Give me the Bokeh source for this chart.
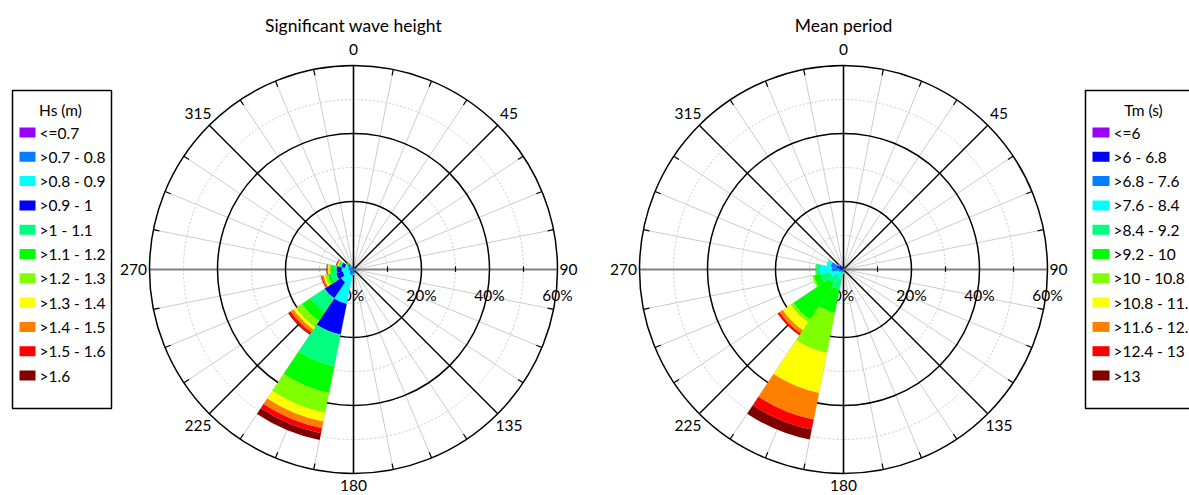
import numpy as np
from bokeh.plotting import figure
from bokeh.models import Range1d, ColumnDataSource
from bokeh.core.properties import value
from bokeh.embed import file_html
from bokeh.resources import INLINE

# ---------------- data ----------------
directions = [0, 22.5, 45, 67.5, 90, 112.5, 135, 157.5, 180, 202.5, 225, 247.5, 270, 292.5, 315, 337.5]
dir_labels = ["0", "45", "90", "135", "180", "225", "270", "315"]
pct_ticks = [0, 20, 40, 60]

hs_title = "Significant wave height"
hs_legend_title = "Hs (m)"
hs_classes = ["<=0.7", ">0.7 - 0.8", ">0.8 - 0.9", ">0.9 - 1", ">1 - 1.1", ">1.1 - 1.2",
              ">1.2 - 1.3", ">1.3 - 1.4", ">1.4 - 1.5", ">1.5 - 1.6", ">1.6"]
hs_colors = ["#9900FF", "#0080FF", "#00FFFF", "#0000FF", "#00FF80", "#00FF00",
             "#80FF00", "#FFFF00", "#FF8000", "#FF0000", "#800000"]
# frequency (%) per direction for every Hs class
hs_c01 = [0.1, 0, 0, 0, 0, 0, 0, 0.1, 0.3, 0.3, 0.3, 0.2, 0.3, 0.3, 0.2, 0.1]
hs_c02 = [0.2, 0, 0, 0, 0, 0, 0, 0.2, 1.0, 1.5, 1.2, 1.0, 1.2, 1.3, 0.8, 0.3]
hs_c03 = [0.1, 0, 0, 0, 0, 0, 0, 0.1, 0.4, 8.5, 3.0, 2.0, 2.0, 1.0, 0.5, 0.2]
hs_c04 = [0, 0, 0, 0, 0, 0, 0, 0, 0.1, 9.2, 5.7, 2.0, 1.5, 1.0, 0.4, 0.1]
hs_c05 = [0, 0, 0, 0, 0, 0, 0, 0, 0, 9.5, 5.0, 1.5, 1.0, 0.5, 0.3, 0]
hs_c06 = [0, 0, 0, 0, 0, 0, 0, 0, 0, 8.0, 3.0, 1.0, 0.7, 0.3, 0.2, 0]
hs_c07 = [0, 0, 0, 0, 0, 0, 0, 0, 0, 6.0, 2.0, 0.8, 0.5, 0.2, 0.1, 0]
hs_c08 = [0, 0, 0, 0, 0, 0, 0, 0, 0, 2.6, 1.0, 0.5, 0.3, 0.2, 0.1, 0]
hs_c09 = [0, 0, 0, 0, 0, 0, 0, 0, 0, 2.0, 1.0, 0.4, 0.2, 0.2, 0.1, 0]
hs_c10 = [0, 0, 0, 0, 0, 0, 0, 0, 0, 1.5, 0.6, 0.3, 0.2, 0.2, 0.1, 0]
hs_c11 = [0, 0, 0, 0, 0, 0, 0, 0, 0, 2.0, 0.3, 0.1, 0.1, 0.1, 0, 0]

tm_title = "Mean period"
tm_legend_title = "Tm (s)"
tm_classes = ["<=6", ">6 - 6.8", ">6.8 - 7.6", ">7.6 - 8.4", ">8.4 - 9.2", ">9.2 - 10",
              ">10 - 10.8", ">10.8 - 11.6", ">11.6 - 12.4", ">12.4 - 13", ">13"]
tm_colors = ["#9900FF", "#0000FF", "#0080FF", "#00FFFF", "#00FF80", "#00FF00",
             "#80FF00", "#FFFF00", "#FF8000", "#FF0000", "#800000"]
tm_c01 = [0, 0, 0, 0, 0, 0, 0, 0, 0, 0, 0, 0, 0, 0.1, 0.1, 0]
tm_c02 = [0.2, 0, 0, 0, 0, 0, 0, 0, 0.2, 0.2, 0.2, 0.4, 1.0, 2.0, 1.2, 0.3]
tm_c03 = [0.1, 0, 0, 0, 0, 0, 0, 0, 0.4, 0.6, 0.5, 1.0, 2.5, 1.8, 0.5, 0.2]
tm_c04 = [0, 0, 0, 0, 0, 0, 0, 0, 0.5, 2.0, 1.5, 2.5, 3.5, 1.0, 0.2, 0]
tm_c05 = [0, 0, 0, 0, 0, 0, 0, 0, 0.3, 3.2, 3.0, 3.0, 1.0, 0.2, 0, 0]
tm_c06 = [0, 0, 0, 0, 0, 0, 0, 0, 0.1, 7.0, 12.5, 2.0, 0.3, 0, 0, 0]
tm_c07 = [0, 0, 0, 0, 0, 0, 0, 0, 0, 12.0, 1.0, 0.5, 0, 0, 0, 0]
tm_c08 = [0, 0, 0, 0, 0, 0, 0, 0, 0, 12.0, 2.8, 0, 0, 0, 0, 0]
tm_c09 = [0, 0, 0, 0, 0, 0, 0, 0, 0, 8.0, 1.1, 0, 0, 0, 0, 0]
tm_c10 = [0, 0, 0, 0, 0, 0, 0, 0, 0, 3.0, 0.7, 0, 0, 0, 0, 0]
tm_c11 = [0, 0, 0, 0, 0, 0, 0, 0, 0, 3.0, 0, 0, 0, 0, 0, 0]

hs_values = [hs_c01, hs_c02, hs_c03, hs_c04, hs_c05, hs_c06, hs_c07, hs_c08, hs_c09, hs_c10, hs_c11]
tm_values = [tm_c01, tm_c02, tm_c03, tm_c04, tm_c05, tm_c06, tm_c07, tm_c08, tm_c09, tm_c10, tm_c11]

# ---------------- layout (pixels) ----------------
W, H = 1189, 495
OX, OY = 0, 0
K = 3.4                  # pixels per percent
RMAX = 60                # outer ring, percent
CX1, CX2, CY = 353, 843, 269   # rose centres, screen px
FONT = value("Lato")


def dx(sx):
    return (sx - CX1) / K


def dy(sy):
    return (CY - sy) / K


p = figure(width=W, height=H, output_backend="svg", toolbar_location=None,
           x_range=Range1d(dx(OX), dx(OX + W)), y_range=Range1d(dy(OY + H), dy(OY)),
           x_axis_type=None, y_axis_type=None, min_border=0)
p.outline_line_color = None
p.grid.visible = False
p.background_fill_color = "white"
p.border_fill_color = "white"


def draw_grid(cx):
    # dotted minor rings
    p.circle(x=[cx] * 3, y=[0] * 3, radius=[10, 30, 50], fill_color=None,
             line_color="#c8c8c8", line_width=1, line_dash="2 2")
    # spokes every 11.25 deg
    angs = np.arange(0, 360, 11.25)
    minor = [a for a in angs if a % 45 != 0]
    ra = np.radians(minor)
    p.segment(x0=[cx] * len(ra), y0=[0] * len(ra), x1=cx + RMAX * np.sin(ra), y1=RMAX * np.cos(ra),
              line_color="#cccccc", line_width=1)
    # outer ticks
    p.segment(x0=cx + RMAX * np.sin(ra), y0=RMAX * np.cos(ra),
              x1=cx + (RMAX - 1.8) * np.sin(ra), y1=(RMAX - 1.8) * np.cos(ra),
              line_color="#000000", line_width=1.2)
    # diagonals
    diag = np.radians([45, 135, 225, 315])
    p.segment(x0=[cx] * 4, y0=[0] * 4, x1=cx + RMAX * np.sin(diag), y1=RMAX * np.cos(diag),
              line_color="#000000", line_width=1.4)
    # vertical (black) and horizontal (grey)
    p.segment(x0=[cx], y0=[-RMAX], x1=[cx], y1=[RMAX], line_color="#000000", line_width=1.6)
    p.segment(x0=[cx - RMAX], y0=[0], x1=[cx + RMAX], y1=[0], line_color="#808080", line_width=2.2)
    # ticks on the radial axis
    tk = [10, 30, 50]
    p.segment(x0=[cx + t for t in tk], y0=[-0.7] * 3, x1=[cx + t for t in tk], y1=[0.9] * 3,
              line_color="#000000", line_width=1.2)
    # major rings
    p.circle(x=[cx] * 3, y=[0] * 3, radius=[20, 40, 60], fill_color=None,
             line_color="#000000", line_width=1.5)
    # percent labels
    p.text(x=[cx + t for t in pct_ticks], y=[dy(294)] * 4, text=[f"{t}%" for t in pct_ticks],
           text_font=FONT, text_font_size="15.5px", text_align="center",
           text_baseline="middle", text_color="#000000")
    # direction labels
    angs8 = np.radians([0, 45, 90, 135, 180, 225, 270, 315])
    rl = np.array([220, 220, 215, 220, 216, 220, 220, 220]) / K
    p.text(x=cx + rl * np.sin(angs8), y=rl * np.cos(angs8), text=dir_labels,
           text_font=FONT, text_font_size="15.5px", text_align="center",
           text_baseline="middle", text_color="#000000")


def draw_rose(cx, values, colors):
    xs, ys, r0, r1, a0, a1, cols = [], [], [], [], [], [], []
    cum = np.zeros(len(directions))
    for vals, col in zip(values, colors):
        v = np.array(vals, dtype=float)
        for i, d in enumerate(directions):
            if v[i] <= 0:
                continue
            xs.append(cx)
            ys.append(0)
            r0.append(cum[i])
            r1.append(cum[i] + v[i])
            a0.append(np.radians(90 - (d + 11.25)))
            a1.append(np.radians(90 - (d - 11.25)))
            cols.append(col)
        cum += v
    src = ColumnDataSource(dict(x=xs, y=ys, r0=r0, r1=r1, a0=a0, a1=a1, c=cols))
    p.annular_wedge(x="x", y="y", inner_radius="r0", outer_radius="r1",
                    start_angle="a0", end_angle="a1", fill_color="c", line_color=None,
                    direction="anticlock", source=src)


def draw_legend(x0, x1, title, tcx, classes, colors, sw0, sw1, tx):
    top, bot = 90, 408
    p.quad(left=[dx(x0)], right=[dx(x1)], top=[dy(top)], bottom=[dy(bot)],
           fill_color="white", line_color="#000000", line_width=1.5)
    p.text(x=[dx(tcx)], y=[dy(109)], text=[title], text_font=FONT, text_font_size="15.5px",
           text_align="center", text_baseline="middle", text_color="#000000")
    n = len(classes)
    yc = [132 + 24.3 * i for i in range(n)]
    p.quad(left=[dx(sw0)] * n, right=[dx(sw1)] * n, top=[dy(y - 5) for y in yc],
           bottom=[dy(y + 5) for y in yc], fill_color=colors, line_color=None)
    p.text(x=[dx(tx)] * n, y=[dy(y) for y in yc], text=classes, text_font=FONT,
           text_font_size="15.5px", text_align="left", text_baseline="middle", text_color="#000000")


for cx_px, vals, cols, ttl in [(CX1, hs_values, hs_colors, hs_title), (CX2, tm_values, tm_colors, tm_title)]:
    cx = dx(cx_px)
    draw_grid(cx)
    draw_rose(cx, vals, cols)
    p.text(x=[cx], y=[dy(25)], text=[ttl], text_font=FONT, text_font_size="17.5px",
           text_align="center", text_baseline="middle", text_color="#000000")

draw_legend(12, 111, hs_legend_title, 60, hs_classes, hs_colors, 19, 35, 39)
draw_legend(1085, 1240, tm_legend_title, 1143, tm_classes, tm_colors, 1092, 1109, 1113)

open("out.html", "w").write(file_html(p, INLINE))
